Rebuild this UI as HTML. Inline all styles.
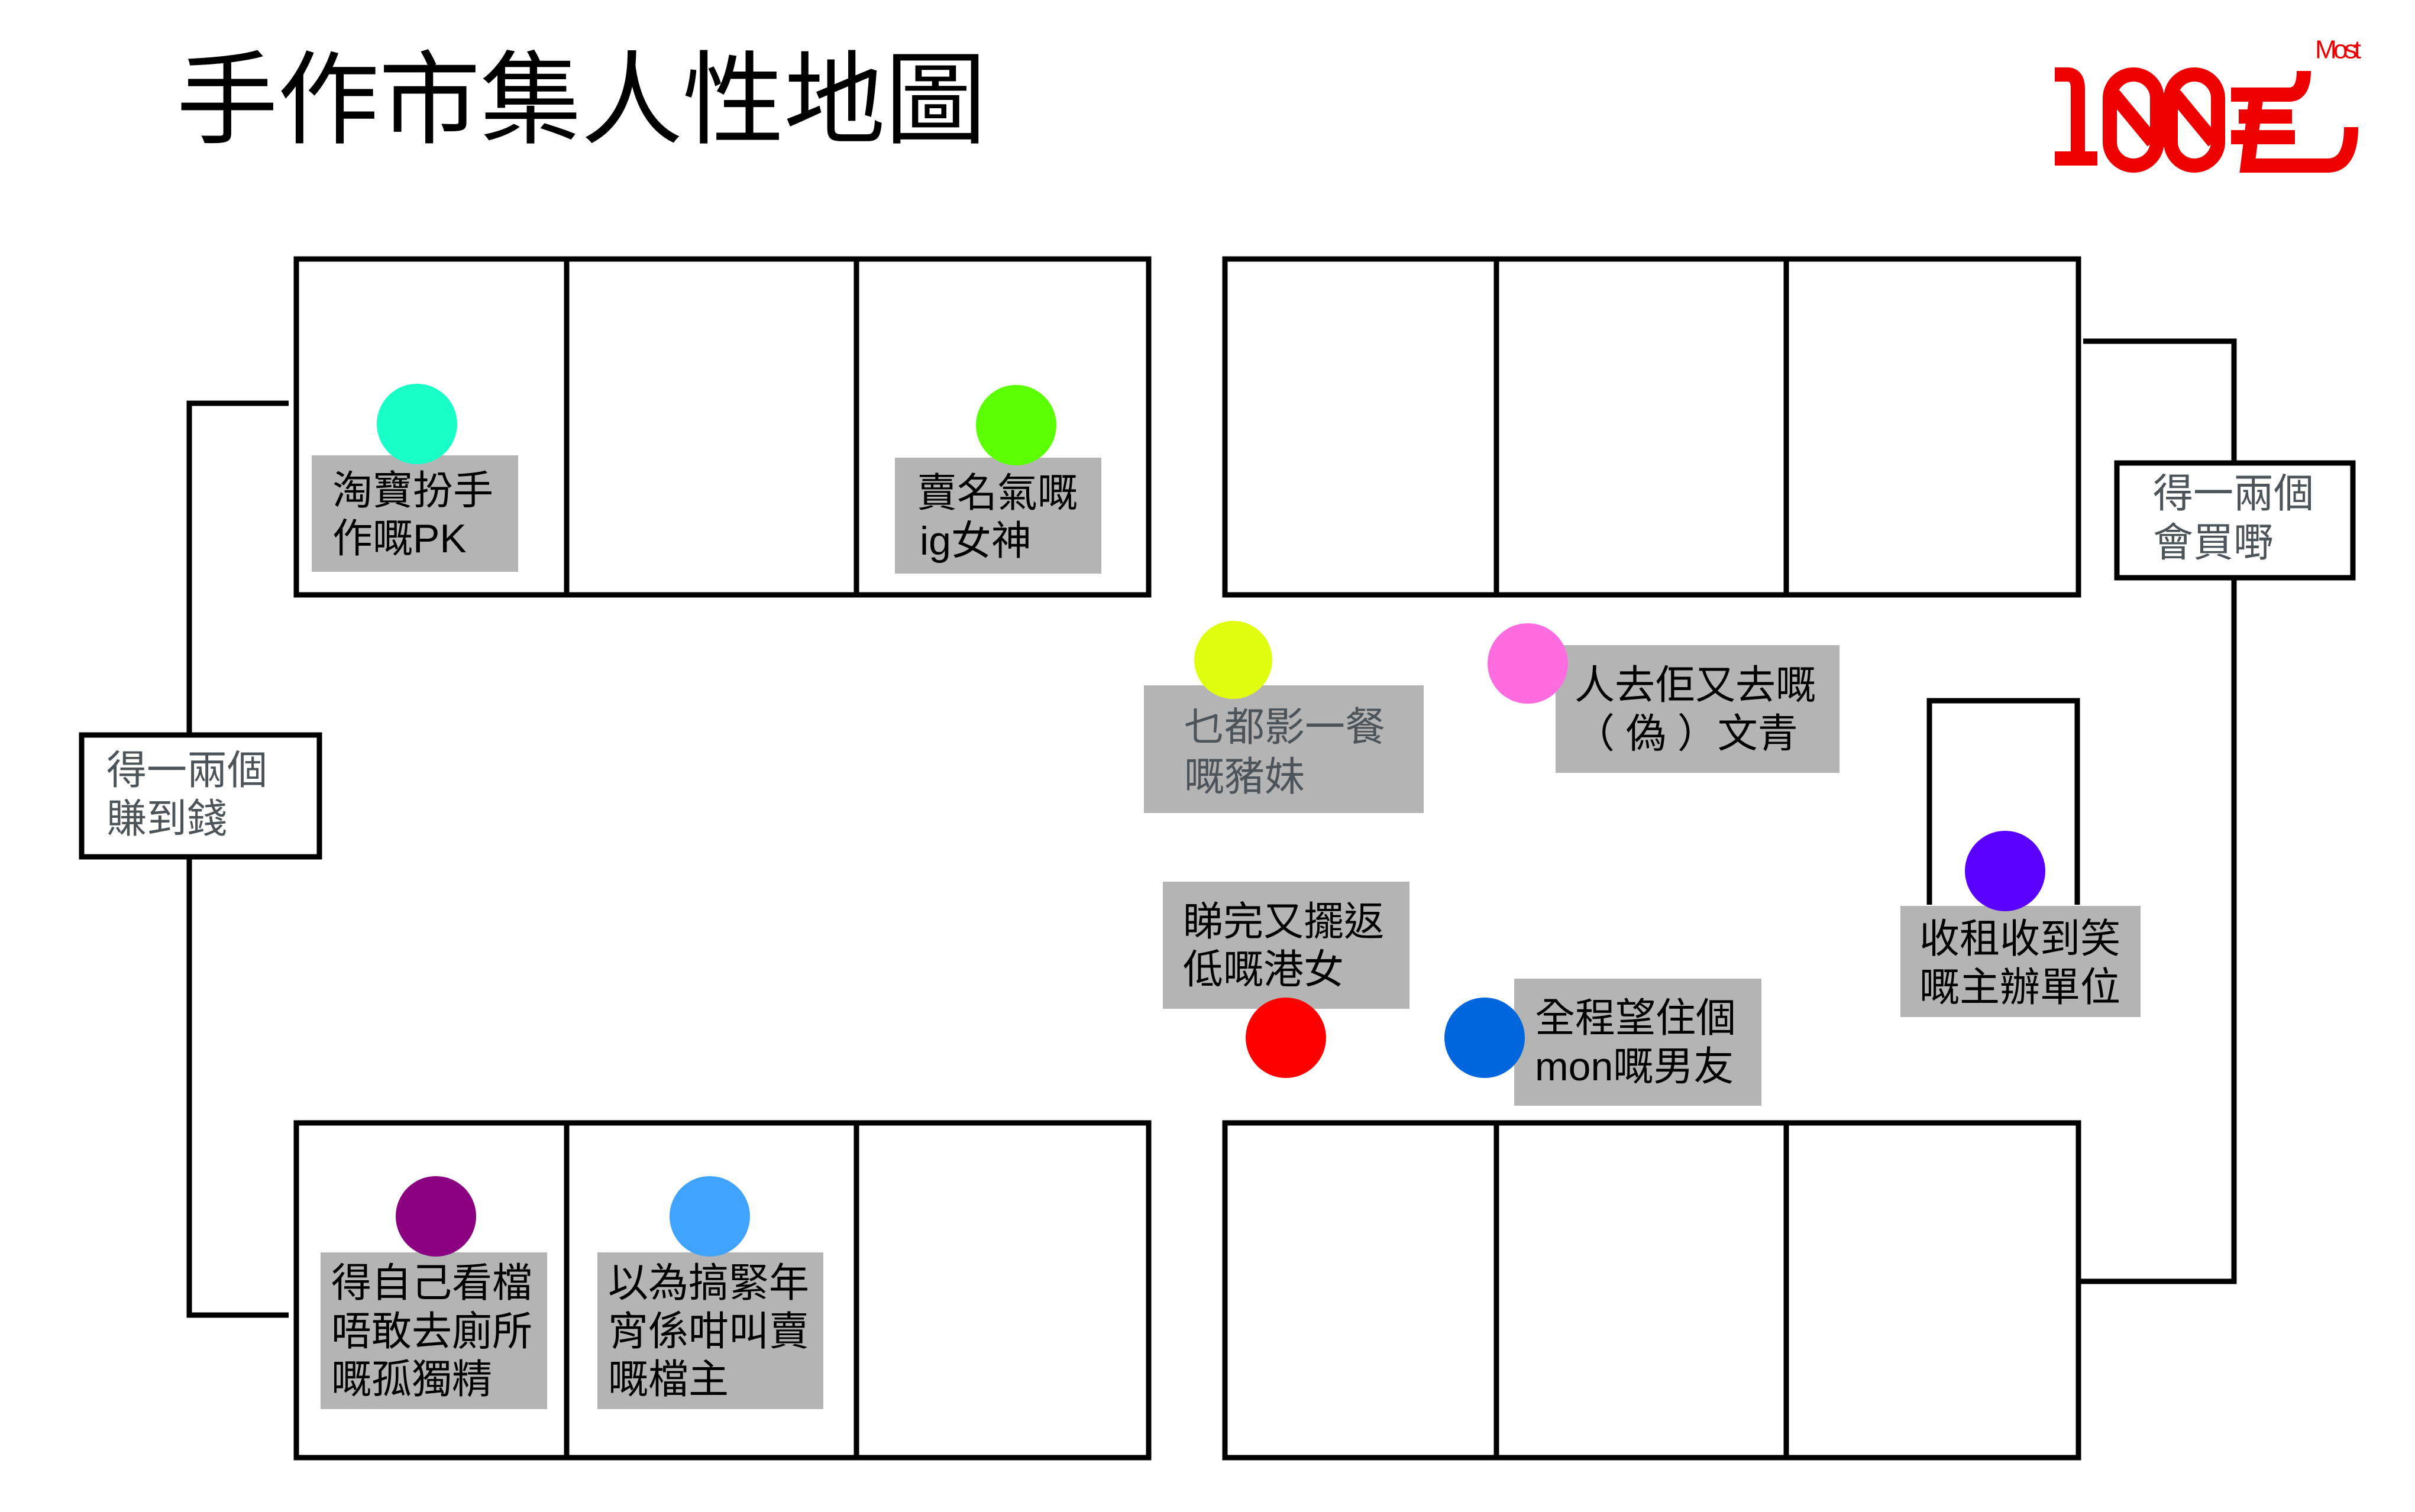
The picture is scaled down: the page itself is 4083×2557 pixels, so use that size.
<!DOCTYPE html>
<html><head><meta charset="utf-8"><style>
html,body{margin:0;padding:0;background:#fff}
svg{display:block}
text{font-family:"Liberation Sans","Noto Sans CJK TC",sans-serif}
</style></head><body>
<svg width="4083" height="2557" viewBox="0 0 4083 2557" xmlns="http://www.w3.org/2000/svg">
<rect width="4083" height="2557" fill="#fff"/>
<text x="298" y="170" font-size="172" dominant-baseline="central" fill="#000" textLength="1370">手作市集人性地圖</text>

<!-- logo -->
<text x="3914" y="84" font-size="44" fill="#ee0000" dominant-baseline="central" textLength="78">Most</text>
<g fill="none" stroke="#ee0000" stroke-width="24">
<path d="M3474 126 H3495 Q3513 126 3513 150 V280"/>
<path d="M3474 268 H3546"/>
<rect x="3567" y="126" width="80" height="154" rx="40"/>
<line x1="3574" y1="160" x2="3640" y2="240"/>
<rect x="3670" y="126" width="80" height="154" rx="40"/>
<line x1="3677" y1="160" x2="3743" y2="240"/>
<path d="M3772 160 H3870 Q3895 160 3895 120"/>
<path d="M3785 197 H3875 M3772 232 H3880"/>
<path d="M3815 160 L3800 280 H3935 Q3975 280 3975 215"/>
</g>

<g fill="none" stroke="#000" stroke-width="9">
<rect x="501" y="438" width="1441" height="568"/>
<line x1="958" y1="438" x2="958" y2="1006"/><line x1="1448" y1="438" x2="1448" y2="1006"/>
<rect x="2071" y="438" width="1443" height="568"/>
<line x1="2530" y1="438" x2="2530" y2="1006"/><line x1="3020" y1="438" x2="3020" y2="1006"/>
<rect x="501" y="1899" width="1441" height="566"/>
<line x1="958" y1="1899" x2="958" y2="2465"/><line x1="1448" y1="1899" x2="1448" y2="2465"/>
<rect x="2071" y="1899" width="1443" height="566"/>
<line x1="2530" y1="1899" x2="2530" y2="2465"/><line x1="3020" y1="1899" x2="3020" y2="2465"/>
<path d="M488 682 H320 V1241"/>
<path d="M320 1451 V2224 H488"/>
<rect x="138" y="1243" width="402" height="206"/>
<path d="M3522 577 H3777 V782"/>
<path d="M3777 978 V2167 H3516"/>
<rect x="3579" y="783" width="399" height="194"/>
<path d="M3262 1530 V1185 H3512 V1530"/>
</g>

<g font-size="68" dominant-baseline="central">
<text x="180" y="1303" fill="#4d5459">得一兩個</text>
<text x="180" y="1385" fill="#4d5459">賺到錢</text>
<text x="3640" y="835" fill="#4d5459">得一兩個</text>
<text x="3640" y="918" fill="#4d5459">會買嘢</text>
</g>

<!-- labels -->
<g fill="#b4b4b4">
<rect x="527" y="770" width="349" height="197"/>
<rect x="1513" y="774" width="349" height="196"/>
<rect x="542" y="2118" width="383" height="265"/>
<rect x="1010" y="2118" width="382" height="265"/>
<rect x="1934" y="1159" width="473" height="216"/>
<rect x="2630" y="1091" width="480" height="216"/>
<rect x="1966" y="1491" width="417" height="215"/>
<rect x="2560" y="1655" width="418" height="215"/>
<rect x="3213" y="1532" width="406" height="188"/>
</g>

<g>
<circle cx="705" cy="717" r="68" fill="#18ffc8"/>
<circle cx="1718" cy="719" r="68" fill="#5aff00"/>
<circle cx="737" cy="2057" r="68" fill="#8b0080"/>
<circle cx="1200" cy="2057" r="68" fill="#40a4ff"/>
<circle cx="2085" cy="1116" r="66" fill="#e0ff10"/>
<circle cx="2583" cy="1122" r="68" fill="#ff6ce0"/>
<circle cx="3390" cy="1473" r="68" fill="#5a00ff"/>
<circle cx="2174" cy="1755" r="68" fill="#ff0000"/>
<circle cx="2510" cy="1755" r="68" fill="#0066dd"/>
</g>

<g font-size="68" dominant-baseline="central" fill="#000">
<text x="562" y="830">淘寶扮手</text>
<text x="562" y="911">作嘅PK</text>
<text x="1550" y="834">賣名氣嘅</text>
<text x="1555" y="915">ig女神</text>
<text x="560" y="2170">得自己看檔</text>
<text x="560" y="2252">唔敢去廁所</text>
<text x="560" y="2333">嘅孤獨精</text>
<text x="1028" y="2170">以為搞緊年</text>
<text x="1028" y="2252">宵係咁叫賣</text>
<text x="1028" y="2333">嘅檔主</text>
<text x="2002" y="1230" fill="#4d5459">乜都影一餐</text>
<text x="2002" y="1314" fill="#4d5459">嘅豬妹</text>
<text x="2662" y="1159">人去佢又去嘅</text>
<text x="2662" y="1241">（ 偽 ）文青</text>
<text x="2000" y="1559">睇完又擺返</text>
<text x="2000" y="1640">低嘅港女</text>
<text x="2595" y="1722">全程望住個</text>
<text x="2595" y="1804">mon嘅男友</text>
<text x="3245" y="1588">收租收到笑</text>
<text x="3245" y="1670">嘅主辦單位</text>
</g>
</svg>
</body></html>
